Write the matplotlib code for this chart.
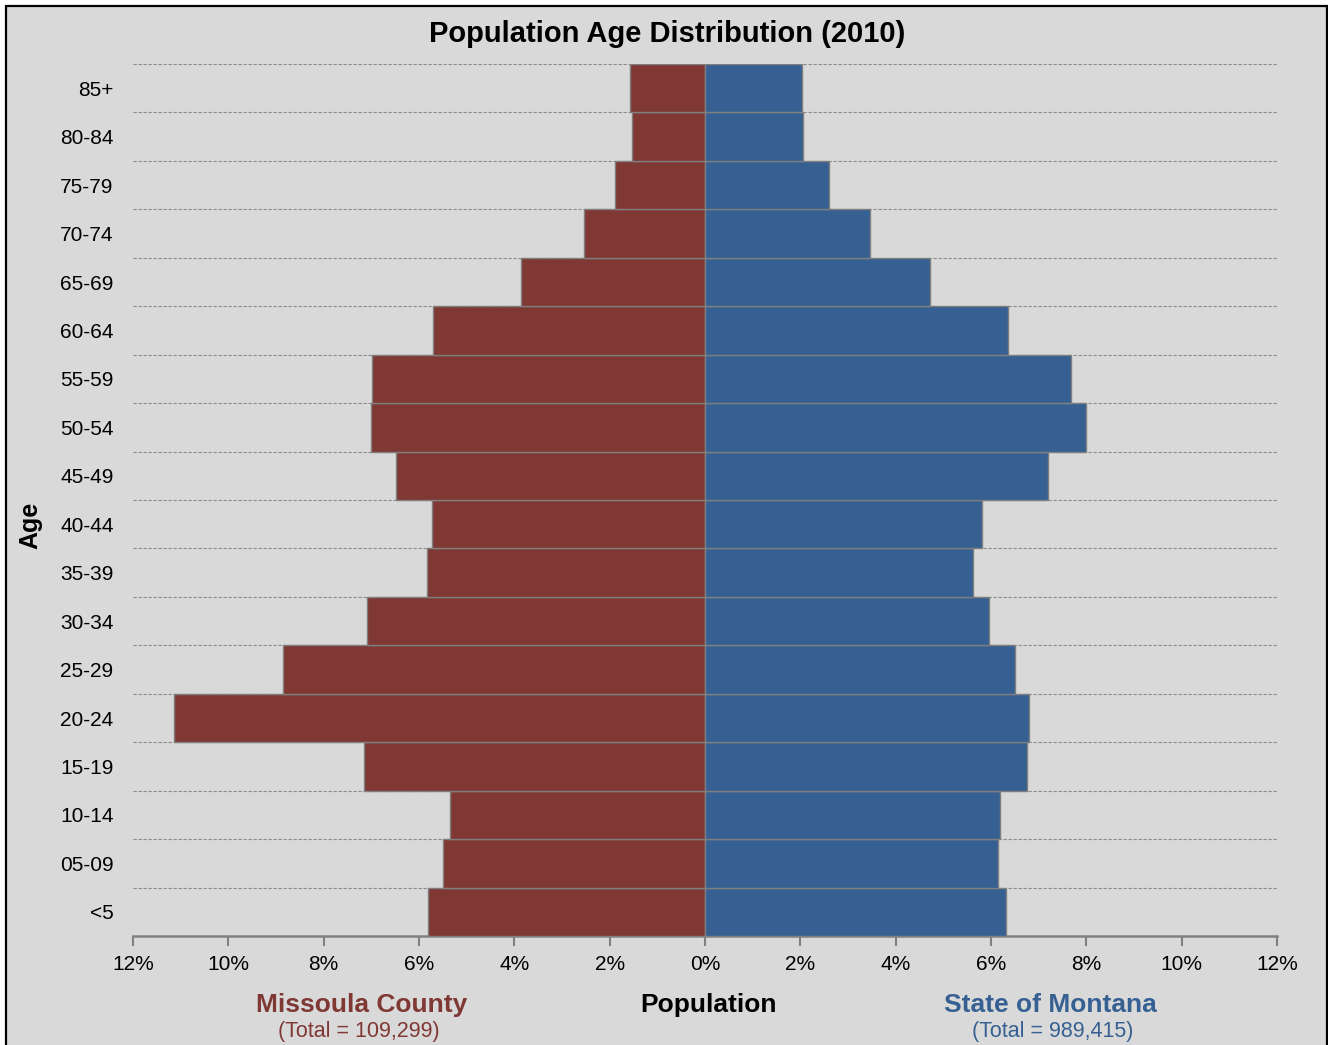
import numpy as np
import matplotlib
matplotlib.use('Agg')
import matplotlib.pyplot as plt
import matplotlib.patches as mpatches
from matplotlib.ticker import FuncFormatter

plt.rcParams['font.family'] = ['Liberation Sans', 'DejaVu Sans']

# age groups, bottom to top
ages = ['<5', '05-09', '10-14', '15-19', '20-24', '25-29', '30-34', '35-39', '40-44',
        '45-49', '50-54', '55-59', '60-64', '65-69', '70-74', '75-79', '80-84', '85+']
# percent of total population
missoula = [5.81, 5.50, 5.35, 7.15, 11.14, 8.85, 7.09, 5.83, 5.73,
            6.48, 7.01, 6.99, 5.71, 3.86, 2.54, 1.89, 1.53, 1.57]
montana = [6.31, 6.15, 6.19, 6.75, 6.80, 6.50, 5.96, 5.62, 5.81,
           7.20, 7.99, 7.68, 6.36, 4.72, 3.46, 2.60, 2.06, 2.03]
xticks = [-12, -10, -8, -6, -4, -2, 0, 2, 4, 6, 8, 10, 12]

red = '#7f3833'
blue = '#366092'
bg = '#d9d9d9'

fig = plt.figure(figsize=(13.28, 10.45), dpi=100, facecolor='white')
fig.patches.append(mpatches.Rectangle((6/1328, -0.01), 1320.5/1328, 1 - 6/1045 + 0.01,
                                      transform=fig.transFigure, facecolor=bg,
                                      edgecolor='black', linewidth=1.6, zorder=-10))

ax = fig.add_axes([133/1328, 1 - 936/1045, 1144/1328, 872/1045])
ax.set_facecolor('none')

y = np.arange(len(ages))
ax.barh(y, [-v for v in missoula], height=1.0, color=red, edgecolor='#7f7f7f', linewidth=1.0, zorder=3)
ax.barh(y, montana, height=1.0, color=blue, edgecolor='#7f7f7f', linewidth=1.0, zorder=3)

ax.set_xlim(-12, 12)
ax.set_ylim(-0.5, len(ages) - 0.5)

for b in np.arange(0.5, len(ages), 1.0):
    ax.axhline(b, color='#8c8c8c', linestyle=(0, (3, 1.5)), linewidth=0.8, zorder=1)

ax.set_yticks(y)
ax.set_yticklabels(ages)
ax.set_xticks(xticks)
ax.xaxis.set_major_formatter(FuncFormatter(lambda v, p: '%d%%' % abs(v)))
ax.tick_params(axis='y', length=0, pad=14, labelsize=15)
ax.tick_params(axis='x', length=7, width=1.5, color='#808080', pad=7, labelsize=15)

for s in ['top', 'right', 'left']:
    ax.spines[s].set_visible(False)
ax.spines['bottom'].set_color('#808080')
ax.spines['bottom'].set_linewidth(1.8)

fig.text(667/1328, 1 - 34/1045, 'Population Age Distribution (2010)', ha='center', va='center',
         fontsize=21, fontweight='bold')
fig.text(30/1328, 1 - 525/1045, 'Age', ha='center', va='center', rotation=90,
         fontsize=18, fontweight='bold')
fig.text(362/1328, 1 - 1005/1045, 'Missoula County', ha='center', va='center',
         fontsize=19, fontweight='bold', color=red)
fig.text(359/1328, 1 - 1031/1045, '(Total = 109,299)', ha='center', va='center',
         fontsize=15.5, color=red)
fig.text(708/1328, 1 - 1005/1045, 'Population', ha='center', va='center',
         fontsize=19, fontweight='bold')
fig.text(1050/1328, 1 - 1005/1045, 'State of Montana', ha='center', va='center',
         fontsize=19, fontweight='bold', color=blue)
fig.text(1053/1328, 1 - 1031/1045, '(Total = 989,415)', ha='center', va='center',
         fontsize=15.5, color=blue)

plt.savefig('out.png', dpi=100, facecolor='white')
